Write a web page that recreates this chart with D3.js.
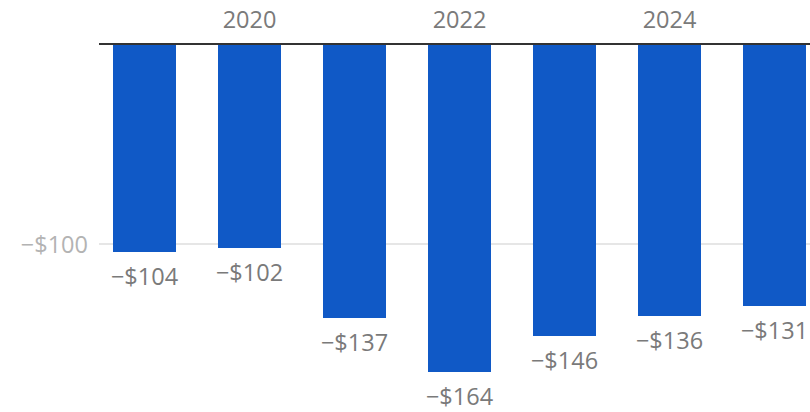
<!DOCTYPE html>
<html>
<head>
<meta charset="utf-8">
<script src="https://cdn.jsdelivr.net/npm/d3@7"></script>
<style>
  html, body { margin: 0; padding: 0; background: #fff; }
  svg { display: block; font-family: "Open Sans", "DejaVu Sans", sans-serif; }
</style>
</head>
<body>
<svg id="chart" width="810" height="412"></svg>
<script>
// Yearly values (negative balances)
const years = [2019, 2020, 2021, 2022, 2023, 2024, 2025];
const values = [-104, -102, -137, -164, -146, -136, -131];
const yearTicks = [2020, 2022, 2024];
const valueTicks = [-100];

const W = 810, H = 412;
const svg = d3.select("#chart");

const x = d3.scaleBand()
  .domain(years)
  .range([92, 827])
  .paddingInner(0.4)
  .paddingOuter(0.2);

const y = d3.scaleLinear()
  .domain([0, -164])
  .range([44, 372]);

const fmt = v => "\u2212$" + Math.abs(v);

// gridline + tick label
const grid = svg.append("g");
valueTicks.forEach(t => {
  grid.append("line")
    .attr("x1", 99).attr("x2", W)
    .attr("y1", y(t)).attr("y2", y(t))
    .attr("stroke", "#e6e6e6").attr("stroke-width", 2);
  grid.append("text")
    .attr("x", 88).attr("y", y(t) + 8.5)
    .attr("text-anchor", "end")
    .attr("font-size", 23.5)
    .attr("fill", "#b3b3b3")
    .text(fmt(t));
});

// bars
svg.append("g").selectAll("rect")
  .data(years)
  .join("rect")
  .attr("x", d => x(d))
  .attr("width", x.bandwidth())
  .attr("y", y(0))
  .attr("height", (d, i) => y(values[i]) - y(0))
  .attr("fill", "#1059c6");

// value labels
svg.append("g").selectAll("text")
  .data(years)
  .join("text")
  .attr("x", d => x(d) + x.bandwidth() / 2)
  .attr("y", (d, i) => y(values[i]) + 33)
  .attr("text-anchor", "middle")
  .attr("font-size", 23.5)
  .attr("fill", "#7a7a7a")
  .text((d, i) => fmt(values[i]));

// zero baseline
svg.append("line")
  .attr("x1", 99).attr("x2", W)
  .attr("y1", y(0)).attr("y2", y(0))
  .attr("stroke", "#333").attr("stroke-width", 2);

// top axis year labels
svg.append("g").selectAll("text")
  .data(yearTicks)
  .join("text")
  .attr("x", d => x(d) + x.bandwidth() / 2)
  .attr("y", 28)
  .attr("text-anchor", "middle")
  .attr("font-size", 23.5)
  .attr("fill", "#7a7a7a")
  .text(d => d);
</script>
</body>
</html>
